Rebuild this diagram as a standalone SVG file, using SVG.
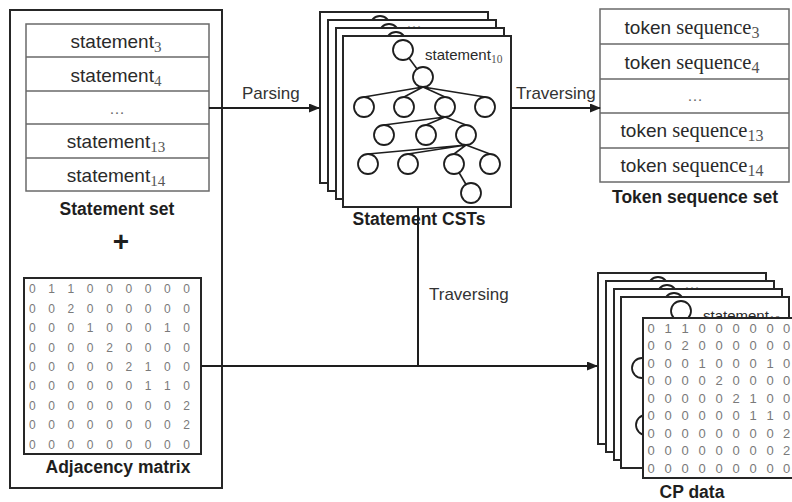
<svg xmlns="http://www.w3.org/2000/svg" xmlns:xlink="http://www.w3.org/1999/xlink" width="792" height="502" viewBox="0 0 792 502">
  <style>
    .frame { fill: #ffffff; stroke: #262626; stroke-width: 2; }
    .table { fill: #ffffff; stroke: #6a6a6a; stroke-width: 1.5; }
    .row { stroke: #6a6a6a; stroke-width: 1.5; }
    .card { fill: #ffffff; stroke: #262626; stroke-width: 2; }
    .node { fill: #ffffff; stroke: #1e1e1e; stroke-width: 1.8; }
    .edge { stroke: #1e1e1e; stroke-width: 1.6; fill: none; }
    .conn { stroke: #1e1e1e; stroke-width: 2; fill: none; }
    .item { font-family: "Liberation Sans", Arial, sans-serif; font-size: 19px; fill: #2a2a2a; }
    .serif { font-family: "Liberation Serif", "Times New Roman", serif; }
    .sub { font-family: "Liberation Serif", "Times New Roman", serif; font-size: 15px; fill: #555555; }
    .title { font-family: "Liberation Sans", Arial, sans-serif; font-size: 17.5px; font-weight: bold; fill: #1e1e1e; text-anchor: middle; }
    .label { font-family: "Liberation Sans", Arial, sans-serif; font-size: 17px; fill: #333333; }
    .digit { font-family: "Liberation Sans", Arial, sans-serif; font-size: 12px; fill: #7a7a7a; text-anchor: middle; }
    .digit-lg { font-family: "Liberation Sans", Arial, sans-serif; font-size: 13px; fill: #7a7a7a; text-anchor: middle; }
    .dots { font-family: "Liberation Serif", serif; font-size: 15px; fill: #666666; text-anchor: middle; }
  </style>
  <defs>
    <marker id="arrow" markerUnits="userSpaceOnUse" markerWidth="11" markerHeight="9" refX="10" refY="4.5" orient="auto">
      <path d="M0,0 L11,4.5 L0,9 z" fill="#1e1e1e"/>
    </marker>
    <clipPath id="page">
      <rect x="0" y="0" width="792" height="502"/>
    </clipPath>
    <!-- stack of four CST cards; the front card carries the full tree -->
    <g id="cst-stack">
      <rect class="card" x="320" y="12" width="168" height="171"/>
      <circle class="node" cx="380" cy="26" r="10"/>
      <rect class="card" x="328" y="20" width="168" height="171"/>
      <circle class="node" cx="389" cy="34" r="10"/>
      <text class="dots" x="414" y="28">…</text>
      <rect class="card" x="336" y="28" width="168" height="171"/>
      <circle class="node" cx="396" cy="42" r="10"/>
      <rect class="card" x="343" y="36" width="168" height="171"/>
      <g>
        <line class="edge" x1="403" y1="50" x2="423" y2="77"/>
        <path class="edge" d="M423,87 L364,97 M423,87 L404,97 M423,87 L445,97 M423,87 L485,97"/>
        <path class="edge" d="M445,117 L384,125 M445,117 L426,125 M445,117 L466,125"/>
        <path class="edge" d="M466,145 L368,154 M466,145 L408,154 M466,145 L454,154 M466,145 L490,154"/>
        <line class="edge" x1="454" y1="164" x2="471" y2="193"/>
        <circle class="node" cx="403" cy="50" r="10"/>
        <circle class="node" cx="423" cy="77" r="10"/>
        <circle class="node" cx="364" cy="107" r="10"/>
        <circle class="node" cx="404" cy="107" r="10"/>
        <circle class="node" cx="445" cy="107" r="10"/>
        <circle class="node" cx="485" cy="107" r="10"/>
        <circle class="node" cx="384" cy="135" r="10"/>
        <circle class="node" cx="426" cy="135" r="10"/>
        <circle class="node" cx="466" cy="135" r="10"/>
        <circle class="node" cx="368" cy="164" r="10"/>
        <circle class="node" cx="408" cy="164" r="10"/>
        <circle class="node" cx="454" cy="164" r="10"/>
        <circle class="node" cx="490" cy="164" r="10"/>
        <circle class="node" cx="471" cy="193" r="10"/>
        <text class="item" x="425" y="60" style="font-size:15px">statement<tspan class="sub" dy="3" style="font-size:11.5px">10</tspan></text>
      </g>
    </g>
  </defs>

  <!-- statement set plus adjacency matrix -->
  <g id="input">
    <rect class="frame" x="10" y="10" width="212" height="478"/>
    <g id="statement-set">
      <rect class="table" x="26" y="24" width="183" height="167"/>
      <path class="row" d="M26,57 H209 M26,91 H209 M26,124 H209 M26,158 H209"/>
      <text class="item" x="116" y="48" text-anchor="middle">statement<tspan class="sub" dy="4">3</tspan></text>
      <text class="item" x="116" y="81.5" text-anchor="middle">statement<tspan class="sub" dy="4">4</tspan></text>
      <text class="dots" x="117" y="114">…</text>
      <text class="item" x="116" y="148" text-anchor="middle">statement<tspan class="sub" dy="4">13</tspan></text>
      <text class="item" x="116" y="182" text-anchor="middle">statement<tspan class="sub" dy="4">14</tspan></text>
      <text class="title" x="117" y="215">Statement set</text>
    </g>
    <text x="121" y="251" style="font-family:'Liberation Sans',Arial,sans-serif;font-size:28px;font-weight:bold;fill:#1e1e1e" text-anchor="middle">+</text>
    <g id="adjacency-matrix">
      <rect class="frame" x="24" y="278" width="177" height="176"/>
      <g class="digit">
        <text x="32.3 51.6 70.9 90.2 109.5 128.8 148.1 167.4 186.7" y="293.3">011000000</text>
        <text x="32.3 51.6 70.9 90.2 109.5 128.8 148.1 167.4 186.7" y="312.7">002000000</text>
        <text x="32.3 51.6 70.9 90.2 109.5 128.8 148.1 167.4 186.7" y="332.1">000100010</text>
        <text x="32.3 51.6 70.9 90.2 109.5 128.8 148.1 167.4 186.7" y="351.5">000020000</text>
        <text x="32.3 51.6 70.9 90.2 109.5 128.8 148.1 167.4 186.7" y="370.9">000002100</text>
        <text x="32.3 51.6 70.9 90.2 109.5 128.8 148.1 167.4 186.7" y="390.3">000000110</text>
        <text x="32.3 51.6 70.9 90.2 109.5 128.8 148.1 167.4 186.7" y="409.7">000000002</text>
        <text x="32.3 51.6 70.9 90.2 109.5 128.8 148.1 167.4 186.7" y="429.1">000000002</text>
        <text x="32.3 51.6 70.9 90.2 109.5 128.8 148.1 167.4 186.7" y="448.5">000000000</text>
      </g>
      <text class="title" x="118" y="473">Adjacency matrix</text>
    </g>
  </g>

  <!-- parsed concrete syntax trees -->
  <g id="statement-csts">
    <use xlink:href="#cst-stack" href="#cst-stack"/>
    <text class="title" x="419" y="225">Statement CSTs</text>
  </g>

  <!-- token sequences -->
  <g id="token-sequence-set">
    <rect class="table" x="600" y="9" width="189" height="173"/>
    <path class="row" d="M600,44 H789 M600,79 H789 M600,113 H789 M600,148 H789"/>
    <text class="item" x="692" y="33.5" text-anchor="middle">token <tspan class="serif" style="font-size:20.5px">sequence</tspan><tspan class="sub" dy="4" style="font-size:16px">3</tspan></text>
    <text class="item" x="692" y="68.5" text-anchor="middle">token <tspan class="serif" style="font-size:20.5px">sequence</tspan><tspan class="sub" dy="4" style="font-size:16px">4</tspan></text>
    <text class="dots" x="695" y="101">…</text>
    <text class="item" x="692" y="137" text-anchor="middle">token <tspan class="serif" style="font-size:20.5px">sequence</tspan><tspan class="sub" dy="4" style="font-size:16px">13</tspan></text>
    <text class="item" x="692" y="172" text-anchor="middle">token <tspan class="serif" style="font-size:20.5px">sequence</tspan><tspan class="sub" dy="4" style="font-size:16px">14</tspan></text>
    <text class="title" x="695" y="203">Token sequence set</text>
  </g>

  <!-- CST stack combined with the adjacency matrix -->
  <g id="cp-data">
    <use xlink:href="#cst-stack" href="#cst-stack" transform="translate(278,261)"/>
    <g clip-path="url(#page)">
      <rect class="frame" x="643" y="318" width="160" height="160"/>
      <g class="digit-lg">
        <text x="651 668 685 702 719 736 753 770 786.5" y="332.7">011000000</text>
        <text x="651 668 685 702 719 736 753 770 786.5" y="350.2">002000000</text>
        <text x="651 668 685 702 719 736 753 770 786.5" y="367.7">000100010</text>
        <text x="651 668 685 702 719 736 753 770 786.5" y="385.2">000020000</text>
        <text x="651 668 685 702 719 736 753 770 786.5" y="402.7">000002100</text>
        <text x="651 668 685 702 719 736 753 770 786.5" y="420.2">000000110</text>
        <text x="651 668 685 702 719 736 753 770 786.5" y="437.7">000000002</text>
        <text x="651 668 685 702 719 736 753 770 786.5" y="455.2">000000002</text>
        <text x="651 668 685 702 719 736 753 770 786.5" y="472.7">000000000</text>
      </g>
    </g>
    <text class="title" x="692" y="498">CP data</text>
  </g>

  <!-- connectors -->
  <g id="connectors">
    <line class="conn" x1="209" y1="108" x2="319" y2="108" marker-end="url(#arrow)"/>
    <line class="conn" x1="511" y1="108" x2="600" y2="108" marker-end="url(#arrow)"/>
    <line class="conn" x1="201" y1="366" x2="597" y2="366" marker-end="url(#arrow)"/>
    <line class="conn" x1="418" y1="207" x2="418" y2="366"/>
    <text class="label" x="242" y="99">Parsing</text>
    <text class="label" x="516" y="99">Traversing</text>
    <text class="label" x="429" y="300">Traversing</text>
  </g>
</svg>
